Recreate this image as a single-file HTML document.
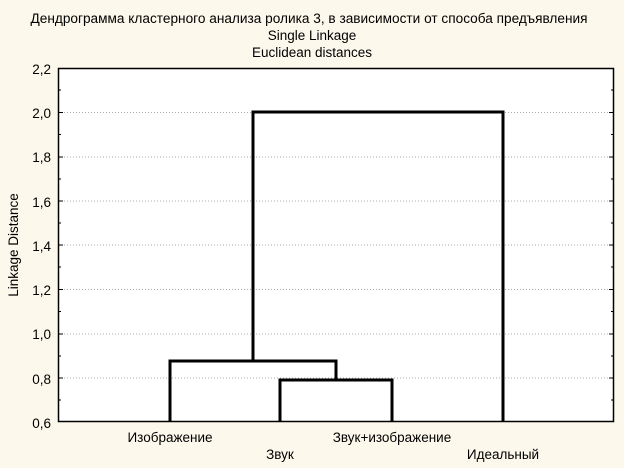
<!DOCTYPE html><html><head><meta charset="utf-8"><style>body{margin:0;background:#fdf8ec}svg{display:block}text{font-family:"Liberation Sans",sans-serif;font-size:13.5px;fill:#000}</style></head><body>
<svg width="624" height="468">
<rect width="624" height="468" fill="#fdf8ec"/>
<rect x="58" y="68" width="556" height="354" fill="#fff"/>
<g stroke="#aaa" stroke-dasharray="1,2" stroke-width="1">
<line x1="58" x2="614" y1="112.5" y2="112.5"/><line x1="58" x2="614" y1="157" y2="157"/><line x1="58" x2="614" y1="201" y2="201"/><line x1="58" x2="614" y1="245" y2="245"/><line x1="58" x2="614" y1="289.5" y2="289.5"/><line x1="58" x2="614" y1="334" y2="334"/><line x1="58" x2="614" y1="378" y2="378"/>
</g>
<g stroke="#000" stroke-width="1">
<path d="M58 112.5h5M58 157h5M58 201h5M58 245h5M58 289.5h5M58 334h5M58 378h5M58 90h3M58 134.5h3M58 179h3M58 223h3M58 267h3M58 311.5h3M58 356h3M58 400h3"/>
<path d="M614 112.5h-5M614 157h-5M614 201h-5M614 245h-5M614 289.5h-5M614 334h-5M614 378h-5M614 90h-3M614 134.5h-3M614 179h-3M614 223h-3M614 267h-3M614 311.5h-3M614 356h-3M614 400h-3"/>
</g>
<rect x="58.5" y="68.5" width="555" height="353" fill="none" stroke="#000" stroke-width="1.5"/>
<g stroke="#000" stroke-width="3" fill="none">
<path d="M280 422V380H392V422"/>
<path d="M170 422V361H336V380"/>
<path d="M253 361V112H503V422"/>
</g>
<g text-anchor="end">
<text x="51" y="74">2,2</text><text x="51" y="118">2,0</text><text x="51" y="162">1,8</text><text x="51" y="207">1,6</text><text x="51" y="251">1,4</text><text x="51" y="295">1,2</text><text x="51" y="339">1,0</text><text x="51" y="384">0,8</text><text x="51" y="428">0,6</text>
</g>
<text transform="translate(18,245) rotate(-90)" text-anchor="middle">Linkage Distance</text>
<g text-anchor="middle">
<text x="309" y="23" textLength="557" lengthAdjust="spacingAndGlyphs">Дендрограмма кластерного анализа ролика 3, в зависимости от способа предъявления</text>
<text x="312" y="40">Single Linkage</text>
<text x="312" y="57">Euclidean distances</text>
<text x="170" y="442">Изображение</text>
<text x="280" y="459">Звук</text>
<text x="392" y="442">Звук+изображение</text>
<text x="503" y="459">Идеальный</text>
</g>
</svg></body></html>
